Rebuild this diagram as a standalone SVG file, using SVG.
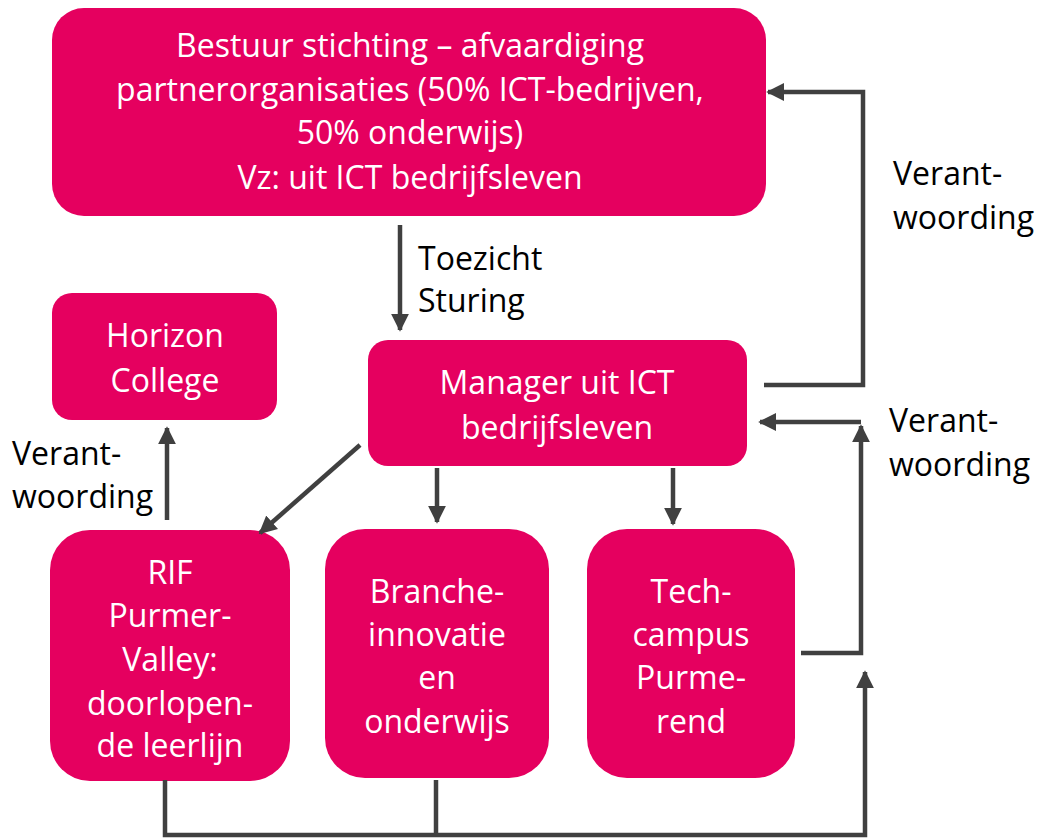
<svg xmlns="http://www.w3.org/2000/svg" width="1040" height="839" viewBox="0 0 1040 839">
<defs>
<style>
.box{fill:#E5005F}
.t{font-family:"Open Sans",Lato,sans-serif;font-size:32px;fill:#fff;text-anchor:middle}
.l{font-family:"Open Sans",Lato,sans-serif;font-size:32px;fill:#000}
.c{stroke:#404040;stroke-width:4.5;fill:none}
</style>
<marker id="ah" viewBox="0 0 10 10" refX="9" refY="5" markerWidth="4" markerHeight="4" orient="auto" markerUnits="strokeWidth">
<path d="M0,0 L10,5 L0,10 z" fill="#404040"/>
</marker>
</defs>
<rect width="1040" height="839" fill="#fff"/>
<g id="bestuur">
<rect class="box" x="52" y="8" width="714" height="208" rx="32"/>
<text class="t" x="410" y="57">Bestuur stichting – afvaardiging</text>
<text class="t" x="410" y="101">partnerorganisaties (50% ICT-bedrijven,</text>
<text class="t" x="410" y="144">50% onderwijs)</text>
<text class="t" x="410" y="189">Vz: uit ICT bedrijfsleven</text>
</g>
<g id="horizon">
<rect class="box" x="52" y="293" width="225" height="127" rx="20"/>
<text class="t" x="165" y="347">Horizon</text>
<text class="t" x="165" y="392">College</text>
</g>
<g id="manager">
<rect class="box" x="368" y="340" width="379" height="126" rx="20"/>
<text class="t" x="557" y="394">Manager uit ICT</text>
<text class="t" x="557" y="439">bedrijfsleven</text>
</g>
<g id="rif">
<rect class="box" x="50" y="530" width="240" height="251" rx="40"/>
<text class="t" x="170" y="584">RIF</text>
<text class="t" x="170" y="627">Purmer-</text>
<text class="t" x="170" y="671">Valley:</text>
<text class="t" x="170" y="715">doorlopen-</text>
<text class="t" x="170" y="757">de leerlijn</text>
</g>
<g id="branche">
<rect class="box" x="325" y="529" width="224" height="249" rx="40"/>
<text class="t" x="437" y="603">Branche-</text>
<text class="t" x="437" y="646">innovatie</text>
<text class="t" x="437" y="689">en</text>
<text class="t" x="437" y="733">onderwijs</text>
</g>
<g id="tech">
<rect class="box" x="587" y="529" width="208" height="249" rx="40"/>
<text class="t" x="691" y="603">Tech-</text>
<text class="t" x="691" y="646">campus</text>
<text class="t" x="691" y="689">Purme-</text>
<text class="t" x="691" y="733">rend</text>
</g>
<g id="labels">
<text class="l" x="418" y="270">Toezicht</text>
<text class="l" x="418" y="312">Sturing</text>
<text class="l" x="893" y="185">Verant-</text>
<text class="l" x="893" y="229">woording</text>
<text class="l" x="889" y="432">Verant-</text>
<text class="l" x="889" y="476">woording</text>
<text class="l" x="12" y="465">Verant-</text>
<text class="l" x="12" y="508">woording</text>
</g>
<g id="connectors">
<path class="c" d="M400,225 V330" marker-end="url(#ah)"/>
<path class="c" d="M764,385 H863 V92 H768" marker-end="url(#ah)"/>
<path class="c" d="M801,653 H861 V426" marker-end="url(#ah)"/>
<path class="c" d="M861,422 H760" marker-end="url(#ah)"/>
<path class="c" d="M165,780 V835 H865 V672" marker-end="url(#ah)"/>
<path class="c" d="M436,780 V835"/>
<path class="c" d="M360,445 L260,533" marker-end="url(#ah)"/>
<path class="c" d="M437,468 V522" marker-end="url(#ah)"/>
<path class="c" d="M673,468 V524" marker-end="url(#ah)"/>
<path class="c" d="M167,520 V428" marker-end="url(#ah)"/>
</g>
</svg>
